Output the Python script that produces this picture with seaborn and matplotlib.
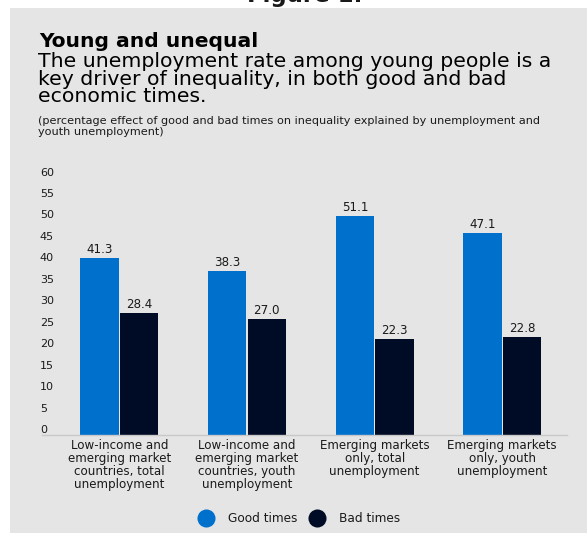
import matplotlib
matplotlib.use("Agg")
import matplotlib.pyplot as plt
from matplotlib.lines import Line2D
from matplotlib.patches import Rectangle
import seaborn as sns
import pandas as pd

categories = [
    "Low-income and\nemerging market\ncountries, total\nunemployment",
    "Low-income and\nemerging market\ncountries, youth\nunemployment",
    "Emerging markets\nonly, total\nunemployment",
    "Emerging markets\nonly, youth\nunemployment",
]
good_times = [41.3, 38.3, 51.1, 47.1]
bad_times = [28.4, 27.0, 22.3, 22.8]
series_names = ["Good times", "Bad times"]
y_ticks = [0, 5, 10, 15, 20, 25, 30, 35, 40, 45, 50, 55, 60]

df = pd.DataFrame({
    "category": categories * 2,
    "value": good_times + bad_times,
    "series": [series_names[0]] * 4 + [series_names[1]] * 4,
})

sns.set_theme(style="white")
plt.rcParams["font.family"] = ["DejaVu Sans"]

BLUE = "#0070CD"
DARK = "#000B25"
BG = "#E5E5E5"
TXT = "#1a1a1a"

W, H = 587, 533
fig = plt.figure(figsize=(W / 100, H / 100), dpi=100, facecolor="white")

# grey panel (behind everything)
fig.patches.append(Rectangle((10 / W, 0), 1 - 10 / W, (H - 8) / H,
                             transform=fig.transFigure, facecolor=BG,
                             edgecolor="none", zorder=-5))

def fy(px):
    return (H - px) / H

def fx(px):
    return px / W

fig.text(fx(305), fy(2), "Figure 1.", ha="center", va="baseline",
         fontsize=16.5, fontweight="bold", color=TXT)
fig.text(fx(39), fy(47), "Young and unequal", ha="left", va="baseline",
         fontsize=14.6, fontweight="bold", color="black")
fig.text(fx(38), fy(102), "The unemployment rate among young people is a\n"
         "key driver of inequality, in both good and bad\neconomic times.",
         ha="left", va="baseline", fontsize=14.7, color="black",
         linespacing=0.89)
fig.text(fx(38), fy(135), "(percentage effect of good and bad times on inequality explained by unemployment and\n"
         "youth unemployment)", ha="left", va="baseline", fontsize=8.1,
         color=TXT, linespacing=1.08)

left, right, bottom, top_val = 42, 567, 435, 62
ppu = 4.29
ax = fig.add_axes([fx(left), fy(bottom), (right - left) / W,
                   (top_val * ppu) / H])
ax.set_facecolor("none")

sns.barplot(data=df, x="category", y="value", hue="series",
            palette=[BLUE, DARK], width=0.62, gap=0.03, ax=ax,
            legend=False, saturation=1, linewidth=0)

for cont in ax.containers:
    ax.bar_label(cont, fmt="%.1f", padding=1.5, fontsize=8.6, color=TXT)

ax.set_ylim(0, top_val)
ax.set_xlim(-0.607, 3.507)
ax.set_yticks(y_ticks)
ax.set_yticklabels([str(t) for t in y_ticks])
ax.set_xlabel("")
ax.set_ylabel("")
ax.tick_params(axis="y", length=0, pad=1.5, labelsize=8, labelcolor=TXT)
ax.tick_params(axis="x", length=0, pad=3, labelsize=8.6, labelcolor=TXT)
for lab in ax.get_yticklabels():
    lab.set_ha("left")
    lab.set_va("bottom")
for lab in ax.get_xticklabels():
    lab.set_linespacing(0.98)

for s in ["top", "right", "left"]:
    ax.spines[s].set_visible(False)
ax.spines["bottom"].set_color("#C8C8C8")
ax.spines["bottom"].set_linewidth(1)
ax.grid(False)

handles = [Line2D([], [], marker="o", linestyle="none", markersize=13,
                  markerfacecolor=c, markeredgecolor="none") for c in (BLUE, DARK)]
fig.legend(handles, series_names, loc="center", ncol=2,
           bbox_to_anchor=(fx(297), fy(519)), frameon=False,
           fontsize=8.7, handletextpad=0.75, columnspacing=0.7,
           labelcolor=TXT)

fig.savefig("out.png", dpi=100, facecolor="white")
